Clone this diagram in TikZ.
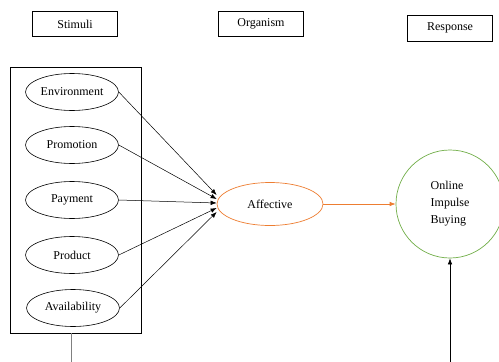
\documentclass[tikz,border=0pt]{standalone}
\usepackage{fontspec}
\setmainfont{Liberation Serif}
\usepackage{xcolor}
\usepackage{tikz}
\usetikzlibrary{shapes.geometric,arrows.meta}
\definecolor{affect}{RGB}{237,125,49}
\definecolor{respond}{RGB}{112,173,71}

\begin{document}
\begin{tikzpicture}[x=1pt,y=-1pt,>={Latex[length=6pt,width=4.5pt]},
	every node/.style={font=\fontsize{12}{17}\selectfont},
	headbox/.style={draw,line width=0.7pt,minimum width=85pt,minimum height=25pt,inner sep=0pt},
	factor/.style={draw,ellipse,line width=0.6pt,minimum width=93pt,minimum height=37pt,inner sep=0pt}]
					\useasboundingbox (0,0) rectangle (499,362);
					\coordinate (h1) at (75,24);
					\coordinate (h2) at (261,24);
					\coordinate (h3) at (450,28);
					\coordinate (f1) at (72,92);
					\coordinate (f2) at (72,145);
					\coordinate (f3) at (72,200);
					\coordinate (f4) at (72,255);
					\coordinate (f5) at (73,308);
					\coordinate (gbot) at (71,362);
					\coordinate (rbot) at (450,362);
					
					\node (stimuli) at (h1) [headbox] {Stimuli};
					\node (organism) at (h2) [headbox] {Organism};
					\node (response) at (h3) [headbox,minimum height=26pt] {Response};
					
					\node (group) at (75.5,200) [draw,line width=0.7pt,minimum width=131pt,minimum height=266pt,inner sep=0pt] {};
					\node (env) at (f1) [factor] {Environment};
					\node (promo) at (f2) [factor] {Promotion};
					\node (pay) at (f3) [factor] {Payment};
					\node (prod) at (f4) [factor] {Product};
					\node (avail) at (f5) [factor] {Availability};
					
					\node (aff) at (270,204) [draw=affect,ellipse,line width=0.7pt,minimum width=106pt,minimum height=43pt,inner sep=0pt] {Affective};
					\node (buy) at (450,204) [draw=respond,circle,line width=0.7pt,minimum size=108pt,inner sep=0pt,align=left] {Online\\Impulse\\Buying};
					
					\draw[->,line width=0.5pt] (env.east) to[] ([yshift=9pt]aff.west);
					\draw[->,line width=0.5pt] (promo.east) to[] ([yshift=5pt]aff.west);
					\draw[->,line width=0.5pt] (pay.east) to[] ([yshift=1pt]aff.west);
					\draw[->,line width=0.5pt] (prod.east) to[] ([yshift=-4pt]aff.west);
					\draw[->,line width=0.5pt] (avail.east) to[] ([yshift=-8pt]aff.west);
					\draw[->,color=affect,line width=0.7pt] (aff.east) to[] (buy.west);
					\draw[color=gray,line width=0.8pt] (gbot |- group.south) to[] (gbot);
					\draw[->,line width=0.7pt] (rbot) to[] (buy.south);
				\end{tikzpicture}
\end{document}
